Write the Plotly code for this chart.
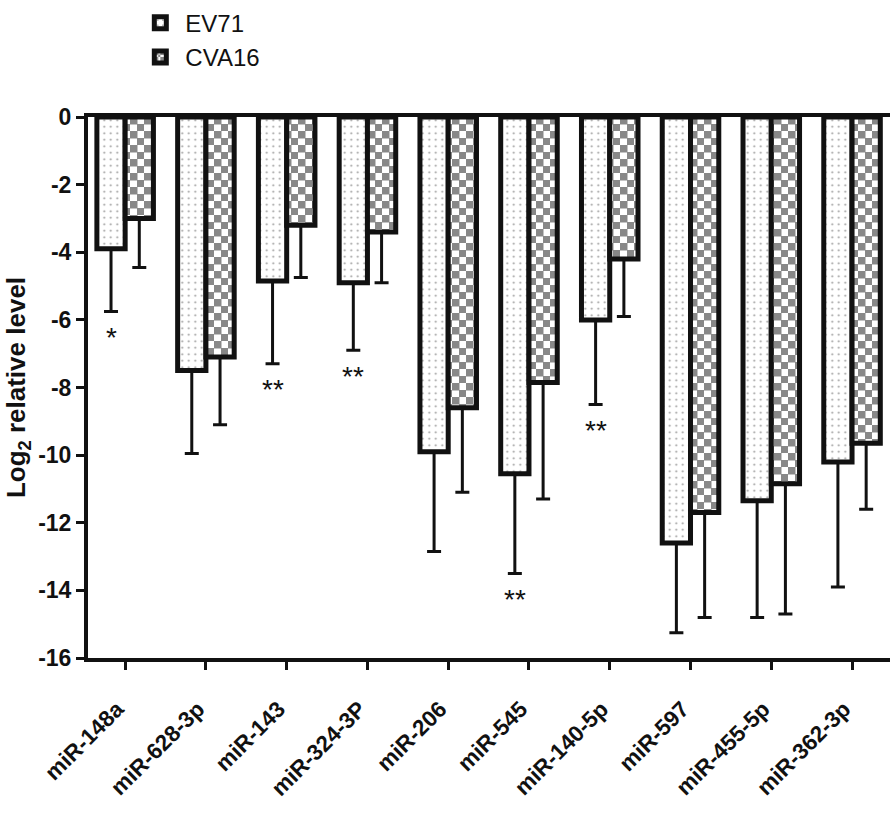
import plotly.graph_objects as go

categories = ["miR-148a", "miR-628-3p", "miR-143", "miR-324-3P", "miR-206",
              "miR-545", "miR-140-5p", "miR-597", "miR-455-5p", "miR-362-3p"]
ev71_mean = [-3.9, -7.5, -4.85, -4.9, -9.9, -10.55, -6.0, -12.6, -11.35, -10.2]
ev71_err = [1.85, 2.45, 2.45, 2.0, 2.95, 2.95, 2.5, 2.65, 3.45, 3.7]
cva16_mean = [-3.0, -7.1, -3.2, -3.4, -8.6, -7.85, -4.2, -11.7, -10.85, -9.65]
cva16_err = [1.45, 2.0, 1.55, 1.5, 2.5, 3.45, 1.7, 3.1, 3.85, 1.95]
significance = ["*", "", "**", "**", "", "**", "**", "", "", ""]
y_ticks = [0, -2, -4, -6, -8, -10, -12, -14, -16]
y_ticktext = ["0", "-2", "-4", "-6", "-8", "-10", "-12", "-14", "-16"]

FONT = "Liberation Sans, Arial, sans-serif"
INK = "#111111"

fig = go.Figure()
fig.add_trace(go.Bar(
    name="EV71", x=categories, y=ev71_mean,
    marker=dict(color="white",
                line=dict(color=INK, width=5),
                pattern=dict(shape=".", fgcolor="#333333", bgcolor="white",
                             size=6.5, solidity=0.08)),
    error_y=dict(type="data", symmetric=False, array=[0] * len(ev71_err),
                 arrayminus=ev71_err, color=INK, thickness=3, width=7),
))
fig.add_trace(go.Bar(
    name="CVA16", x=categories, y=cva16_mean,
    marker=dict(color="white",
                line=dict(color=INK, width=5),
                pattern=dict(path="M0,0H7.5V7.5H0Z M7,7H14V14H7Z",
                             fgcolor=INK, bgcolor="white", size=14)),
    error_y=dict(type="data", symmetric=False, array=[0] * len(cva16_err),
                 arrayminus=cva16_err, color=INK, thickness=3, width=7),
))

for cat, m, e, s in zip(categories, ev71_mean, ev71_err, significance):
    if s:
        fig.add_annotation(x=cat, y=m - e - 0.25, text=s, showarrow=False,
                           xshift=-14, yanchor="top",
                           font=dict(family=FONT, size=28, color=INK))

fig.update_layout(
    width=891, height=816,
    margin=dict(l=88, r=1, t=114, b=158),
    paper_bgcolor="white", plot_bgcolor="white",
    barmode="group", bargap=0.3, bargroupgap=0.0,
    font=dict(family=FONT, color=INK),
    showlegend=True,
    legend=dict(x=0.059, y=1.215, xanchor="left", yanchor="top",
                font=dict(family=FONT, size=24, color=INK),
                bgcolor="rgba(0,0,0,0)", traceorder="normal",
                itemwidth=40),
    xaxis=dict(range=[-0.46, 9.47], showline=True, linecolor=INK,
               linewidth=4, mirror=True, ticks="outside", ticklen=8,
               tickwidth=3, tickcolor=INK, tickangle=-45,
               ticklabelstandoff=17, ticklabelshift=-8,
               tickfont=dict(family=FONT, size=22.5, weight="bold", color=INK),
               showgrid=False, zeroline=False),
    yaxis=dict(range=[-16, 0], tickvals=y_ticks, ticktext=y_ticktext,
               showline=True, linecolor=INK, linewidth=4, ticks="outside",
               ticklen=8, tickwidth=3, tickcolor=INK,
               tickfont=dict(family=FONT, size=23, weight="bold", color=INK),
               showgrid=False, zeroline=False,
               title=dict(text="Log<sub>2</sub> relative level", standoff=6,
                          font=dict(family=FONT, size=26, weight="bold",
                                    color=INK))),
)

fig.write_html("out.html")
